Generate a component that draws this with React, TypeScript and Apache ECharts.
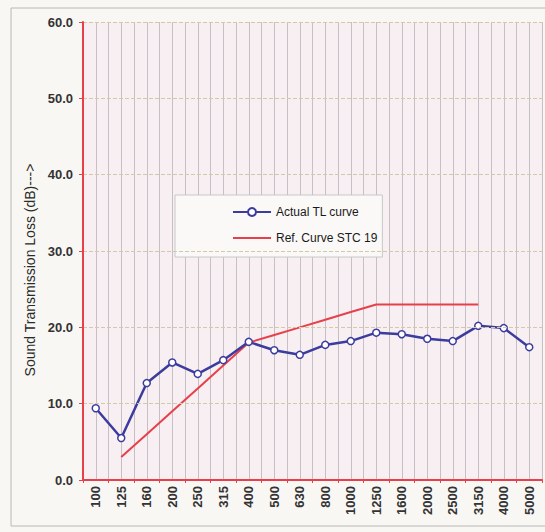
import React, { useEffect, useRef } from "react";
import * as echarts from "echarts";

const categories = ["100", "125", "160", "200", "250", "315", "400", "500", "630", "800", "1000", "1250", "1600", "2000", "2500", "3150", "4000", "5000"];
const actualTL = [9.4, 5.5, 12.7, 15.4, 13.9, 15.7, 18.1, 17.0, 16.4, 17.7, 18.2, 19.3, 19.1, 18.5, 18.2, 20.2, 19.9, 17.4];
const refSTC19 = [null, 3, 6, 9, 12, 15, 18, 19, 20, 21, 22, 23, 23, 23, 23, 23, null, null];
const yMin = 0;
const yMax = 60;
const yInterval = 10;

export default function App() {
  const ref = useRef<HTMLDivElement>(null);
  useEffect(() => {
    if (!ref.current) return;
    const chart = echarts.init(ref.current, null, { renderer: "svg" });
    const font = "Liberation Sans, Arial, sans-serif";
    chart.setOption({
      animation: false,
      backgroundColor: "#f9f7f3",
      textStyle: { fontFamily: font },
      graphic: [
        {
          type: "rect",
          shape: { x: 11, y: 8, width: 560, height: 518 },
          style: { fill: "none", stroke: "#b8b8b8", lineWidth: 1 },
          silent: true,
          z: -1,
        },
      ],
      grid: {
        left: 83,
        top: 22,
        right: 3,
        bottom: 52,
        show: true,
        backgroundColor: "#f7eff1",
        borderWidth: 0,
      },
      legend: {
        orient: "vertical",
        left: 175,
        top: 195,
        backgroundColor: "#fbf9f7",
        borderColor: "#c8c8c8",
        borderWidth: 1,
        padding: [11, 5, 13, 57],
        itemGap: 14,
        itemWidth: 38,
        itemHeight: 10,
        textStyle: { fontFamily: font, fontSize: 12, color: "#1a1a1a", fontWeight: "normal" },
        data: [
          { name: "Actual TL curve" },
          { name: "Ref. Curve STC 19", itemStyle: { opacity: 0 } },
        ],
      },
      xAxis: [
        {
          type: "category",
          data: categories,
          boundaryGap: true,
          axisLine: { lineStyle: { color: "#e8404a", width: 2 } },
          axisTick: { show: true, length: 3, lineStyle: { color: "#e8404a" } },
          axisLabel: {
            rotate: 90,
            fontSize: 13,
            fontWeight: "bold",
            color: "#333",
            margin: 6,
            interval: 0,
            fontFamily: font,
          },
          splitLine: { show: false },
          z: 5,
        },
        {
          type: "value",
          min: 0,
          max: 36,
          interval: 1,
          show: true,
          position: "top",
          axisLine: { show: false },
          axisTick: { show: false },
          axisLabel: { show: false },
          splitLine: { show: true, lineStyle: { color: "#c6c0c6", width: 1 } },
        },
      ],
      yAxis: {
        type: "value",
        min: yMin,
        max: yMax,
        interval: yInterval,
        name: "Sound Transmission Loss (dB)--->",
        nameLocation: "middle",
        nameGap: 45,
        nameTextStyle: { fontSize: 14, color: "#2a2a2a", fontFamily: font, padding: [0, 0, 0, -38] },
        axisLine: { show: true, lineStyle: { color: "#e8404a", width: 2 } },
        axisTick: { show: true, length: 4, lineStyle: { color: "#e8404a" } },
        axisLabel: {
          formatter: (v: number) => v.toFixed(1),
          fontSize: 13,
          fontWeight: "bold",
          color: "#333",
          margin: 10,
          fontFamily: font,
        },
        splitLine: { show: true, lineStyle: { color: "#d2caa6", type: "dashed", width: 1 } },
        z: 5,
      },
      series: [
        {
          name: "Actual TL curve",
          type: "line",
          data: actualTL,
          xAxisIndex: 0,
          symbol: "circle",
          symbolSize: 7,
          lineStyle: { color: "#3c3c9e", width: 2.5 },
          itemStyle: { color: "#ffffff", borderColor: "#3c3c9e", borderWidth: 1.5 },
          z: 4,
        },
        {
          name: "Ref. Curve STC 19",
          type: "line",
          data: refSTC19,
          xAxisIndex: 0,
          symbol: "none",
          lineStyle: { color: "#e8404a", width: 2 },
          itemStyle: { color: "#e8404a" },
          z: 3,
        },
      ],
    });
    return () => chart.dispose();
  }, []);
  return <div ref={ref} style={{ position: "fixed", left: 0, top: 0, width: 545, height: 532 }} />;
}
